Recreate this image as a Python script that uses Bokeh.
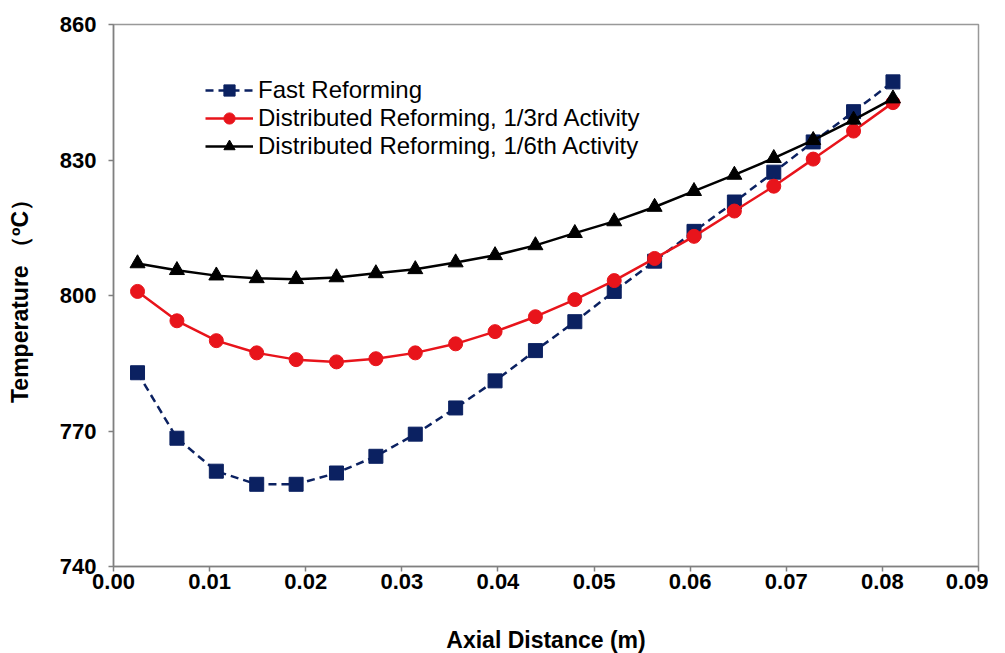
from bokeh.plotting import figure
from bokeh.models import FixedTicker, NumeralTickFormatter, Legend, LegendItem
from bokeh.embed import file_html
from bokeh.resources import INLINE

x_m = [0.0025, 0.0066, 0.0107, 0.0149, 0.0190, 0.0232, 0.0273, 0.0314, 0.0356, 0.0397,
       0.0439, 0.0480, 0.0521, 0.0563, 0.0604, 0.0646, 0.0687, 0.0728, 0.0770, 0.0811]
fast = [782.9, 768.4, 761.1, 758.2, 758.2, 760.7, 764.4, 769.3, 775.1, 781.1,
        787.8, 794.2, 800.9, 807.6, 814.2, 820.7, 827.3, 834.0, 840.7, 847.3]
dist_third = [800.9, 794.4, 790.0, 787.3, 785.8, 785.3, 786.0, 787.3, 789.3, 792.0,
              795.3, 799.1, 803.3, 808.2, 813.1, 818.7, 824.2, 830.2, 836.4, 842.7]
dist_sixth = [807.1, 805.6, 804.4, 803.8, 803.6, 804.0, 804.9, 805.8, 807.3, 808.9,
              811.1, 813.8, 816.4, 819.6, 823.1, 826.7, 830.4, 834.4, 838.9, 843.6]
labels = ["Fast Reforming", "Distributed Reforming, 1/3rd Activity",
          "Distributed Reforming, 1/6th Activity"]
x_ticks = [0.0, 0.01, 0.02, 0.03, 0.04, 0.05, 0.06, 0.07, 0.08, 0.09]
y_ticks = [740, 770, 800, 830, 860]

FONT = "Liberation Sans"
p = figure(frame_width=865, frame_height=542, x_range=(0, 0.09), y_range=(740, 860),
           output_backend="svg", toolbar_location=None,
           min_border_left=113, min_border_right=10, min_border_top=24, min_border_bottom=80)
p.background_fill_color = "white"
p.outline_line_color = "#999999"
p.outline_line_width = 1.5
p.xgrid.visible = False
p.ygrid.visible = False

for ax in (p.xaxis[0], p.yaxis[0]):
    ax.axis_line_color = "#808080"
    ax.axis_line_width = 1.5
    ax.major_tick_line_color = "#808080"
    ax.major_tick_line_width = 1.5
    ax.major_tick_in = 0
    ax.major_tick_out = 5
    ax.minor_tick_line_color = None
    ax.major_label_text_font = FONT
    ax.major_label_text_font_style = "bold"
    ax.major_label_text_font_size = "22px"
    ax.major_label_text_color = "black"
    ax.axis_label_text_font = FONT
    ax.axis_label_text_font_style = "bold"
    ax.axis_label_text_font_size = "23px"
    ax.axis_label_text_color = "black"

p.xaxis.ticker = FixedTicker(ticks=x_ticks)
p.xaxis.formatter = NumeralTickFormatter(format="0.00")
p.yaxis.ticker = FixedTicker(ticks=y_ticks)
p.xaxis.axis_label = "Axial Distance (m)"
p.yaxis.axis_label = "Temperature （ºC）"
p.xaxis.axis_label_standoff = 35
p.yaxis.axis_label_standoff = 24
p.yaxis.major_label_standoff = 12
p.xaxis.major_label_standoff = 2

blue = "#0b2161"
red = "#e8141b"
black = "#000000"

l1 = p.line(x_m, fast, line_color=blue, line_width=2.5, line_dash="8 5")
s1 = p.scatter(x_m, fast, marker="square", size=14, fill_color=blue, line_color=blue)
l2 = p.line(x_m, dist_third, line_color=red, line_width=2.5)
s2 = p.scatter(x_m, dist_third, marker="circle", size=14, fill_color=red, line_color=red)
l3 = p.line(x_m, dist_sixth, line_color=black, line_width=2.5)
s3 = p.scatter(x_m, dist_sixth, marker="triangle", size=15, fill_color=black, line_color=black)

legend = Legend(items=[LegendItem(label=labels[0], renderers=[l1, s1]),
                       LegendItem(label=labels[1], renderers=[l2, s2]),
                       LegendItem(label=labels[2], renderers=[l3, s3])],
                location=(92, 406))
legend.border_line_color = None
legend.background_fill_alpha = 0
legend.padding = 0
legend.margin = 0
legend.spacing = 0
legend.glyph_width = 48
legend.glyph_height = 28
legend.label_height = 28
legend.label_standoff = 5
legend.label_text_font = FONT
legend.label_text_font_size = "24px"
legend.label_text_color = "black"
p.add_layout(legend, "center")

open("out.html", "w").write(file_html(p, INLINE))
